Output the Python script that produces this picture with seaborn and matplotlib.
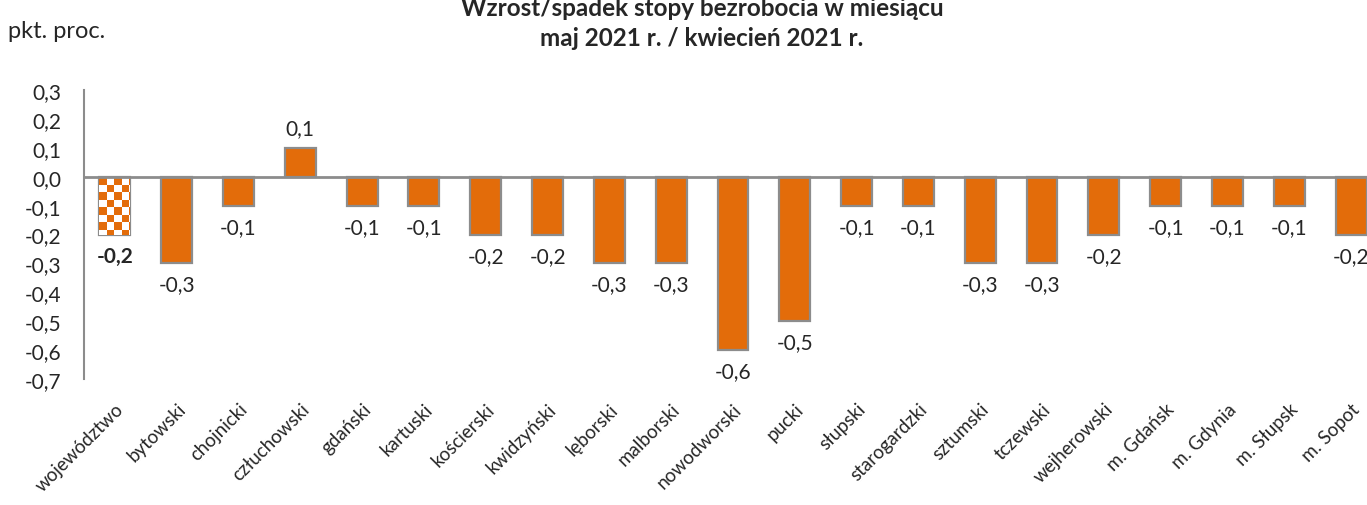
import numpy as np
import pandas as pd
import seaborn as sns
import matplotlib.pyplot as plt
from matplotlib.colors import ListedColormap

#%% data
powiaty = ['województwo', 'bytowski', 'chojnicki', 'człuchowski', 'gdański',
           'kartuski', 'kościerski', 'kwidzyński', 'lęborski', 'malborski',
           'nowodworski', 'pucki', 'słupski', 'starogardzki', 'sztumski',
           'tczewski', 'wejherowski', 'm. Gdańsk', 'm. Gdynia', 'm. Słupsk',
           'm. Sopot']
zmiana = [-0.2, -0.3, -0.1, 0.1, -0.1, -0.1, -0.2, -0.2, -0.3, -0.3,
          -0.6, -0.5, -0.1, -0.1, -0.3, -0.3, -0.2, -0.1, -0.1, -0.1, -0.2]
y_ticks = [0.3, 0.2, 0.1, 0.0, -0.1, -0.2, -0.3, -0.4, -0.5, -0.6, -0.7]

tytul = ['Wzrost/spadek stopy bezrobocia w miesiącu',
         'maj 2021 r. / kwiecień 2021 r.']
jednostka = 'pkt. proc.'

df = pd.DataFrame({'Powiat': powiaty, 'Zmiana': zmiana})

#%% style
sns.set_style('white')
plt.rcParams['font.family'] = ['Lato', 'DejaVu Sans']

orange = '#E36C0A'
grey = '#8C8C8C'
fs = 15

def pl(v):
    # polish decimal comma
    return f'{v:.1f}'.replace('.', ',')

W, H = 1367, 506
fig = plt.figure(figsize=(W / 100, H / 100), dpi=100)
# axes runs past the right edge, like the cropped original
ax = fig.add_axes([84 / W, (H - 380) / H, (1382 - 84) / W, 289 / H])

sns.barplot(data=df, x='Powiat', y='Zmiana', color=orange, saturation=1,
            width=0.5, edgecolor=grey, linewidth=1.6, ax=ax, zorder=2)

ax.set_yticks(y_ticks)
ax.set_yticklabels([pl(t) for t in y_ticks], fontsize=fs)
ax.tick_params(axis='y', length=0, pad=16)
ax.set_xlabel('')
ax.set_ylabel('')
ax.set_xticks(range(len(powiaty)))
ax.set_xticklabels(powiaty, rotation=45, ha='right', rotation_mode='anchor',
                   fontsize=13.5)
ax.tick_params(axis='x', length=0, pad=15)

for s in ['top', 'right', 'bottom']:
    ax.spines[s].set_visible(False)
ax.spines['left'].set_color(grey)
ax.spines['left'].set_linewidth(1.5)
ax.axhline(0, color=grey, lw=2, zorder=3)

# checkerboard fill on first bar (województwo)
bar0 = ax.patches[0]
bar0.set_facecolor('white')
bx, bw = bar0.get_x(), bar0.get_width()
y0 = min(bar0.get_y(), bar0.get_y() + bar0.get_height())
y1 = max(bar0.get_y(), bar0.get_y() + bar0.get_height())
sq_w = 7.5 / 61.8
sq_h = 7.5 / 289
nx = int(np.ceil(bw / sq_w))
ny = int(np.ceil((y1 - y0) / sq_h))
checker = (np.indices((ny, nx)).sum(axis=0) % 2).astype(float)
img = ax.imshow(checker, cmap=ListedColormap([orange, 'white']),
                extent=[bx, bx + nx * sq_w, y1 - ny * sq_h, y1],
                aspect='auto', interpolation='nearest', zorder=2.5)
img.set_clip_path(bar0)
ax.set_xlim(-0.5, len(powiaty) - 0.5)
ax.set_ylim(-0.7, 0.3)

# value labels
for i, v in enumerate(zmiana):
    off = 7 if v > 0 else -8
    ax.annotate(pl(v), (i, v), xytext=(0, off), textcoords='offset points',
                ha='center', va='bottom' if v > 0 else 'top',
                fontsize=fs, fontweight='bold' if i == 0 else 'normal',
                zorder=4)

fig.text(702 / W, 1 - 8 / H, tytul[0], ha='center', va='center',
         fontsize=17.5, fontweight='bold')
fig.text(702 / W, 1 - 38 / H, tytul[1], ha='center', va='center',
         fontsize=17.5, fontweight='bold')
fig.text(8 / W, 1 - 32 / H, jednostka, ha='left', va='center', fontsize=17)

fig.savefig('out.png', dpi=100)
